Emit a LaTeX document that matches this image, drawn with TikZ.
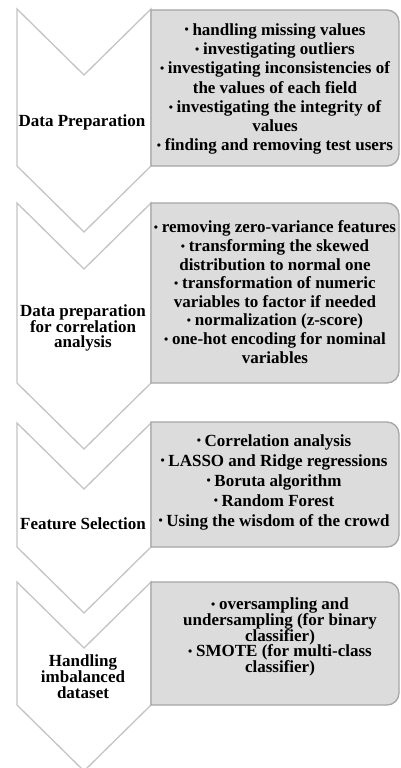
\documentclass[tikz,border=0pt]{standalone}
\usepackage{fontspec}
\setmainfont{Liberation Serif}
\definecolor{boxfill}{HTML}{DCDCDC}
\definecolor{boxline}{HTML}{A6A6A6}
\definecolor{chevline}{HTML}{C4C4C4}
\newcommand\bl{\raisebox{0.15ex}{\fontsize{12}{12}\selectfont•}\hspace{0.22em}}
\begin{document}
\begin{tikzpicture}[x=1pt,y=-1pt,
  chev/.style={draw=chevline,fill=white,line width=1.3pt,line join=miter},
  boxst/.style={draw=boxline,fill=boxfill,line width=1.3pt},
  txt/.style={align=center,inner sep=0pt,font=\fontsize{17}{#1}\selectfont\bfseries},
  txt/.default=19]
\useasboundingbox (0,0) rectangle (401,768);
\fill[white] (0,0) rectangle (401,768);
\begin{scope}
\clip (0,0) rectangle (401,768);
% chevrons: top T, side bottom B, depth 66
\foreach \T/\B in {9/166,203/383,423/547,582/705}{
  \draw[chev] (17,\T) -- (84,\T+66) -- (151,\T) -- (151,\B) -- (84,\B+66) -- (17,\B) -- cycle;
}
% boxes
\foreach \T/\B in {10/166,203/383,422/547,582/705}{
  \draw[boxst] (151,\T) -- (387,\T) arc[start angle=90,end angle=0,radius=12pt]
    -- (399,\B-12) arc[start angle=0,end angle=-90,radius=12pt] -- (151,\B) -- cycle;
}
\end{scope}
% labels
\node[txt] (l1) at (82,122) {Data Preparation};
\node[txt=15.8] (l2) at (83,328) {Data preparation\\for correlation\\analysis};
\node[txt] (l3) at (83,524) {Feature Selection};
\node[txt=16] (l4) at (83,677) {Handling\\imbalanced\\dataset};
% box texts
\node[txt=19.3] (b1) at (275,89) {\bl handling missing values\\\bl investigating outliers\\\bl investigating inconsistencies of\\the values of each field\\\bl investigating the integrity of\\values\\\bl finding and removing test users};
\node[txt=18.6] (b2) at (275,292) {\bl removing zero-variance features\\\bl transforming the skewed\\distribution to normal one\\\bl transformation of numeric\\variables to factor if needed\\\bl normalization (z-score)\\\bl one-hot encoding for nominal\\variables};
\node[txt=20] (b3) at (274,482) {\bl Correlation analysis\\\bl LASSO and Ridge regressions\\\bl Boruta algorithm\\\bl Random Forest\\\bl Using the wisdom of the crowd};
\node[txt=15.8] (b4) at (280,637) {\bl oversampling and\\undersampling (for binary\\classifier)\\\bl SMOTE (for multi-class\\classifier)};
\end{tikzpicture}
\end{document}
